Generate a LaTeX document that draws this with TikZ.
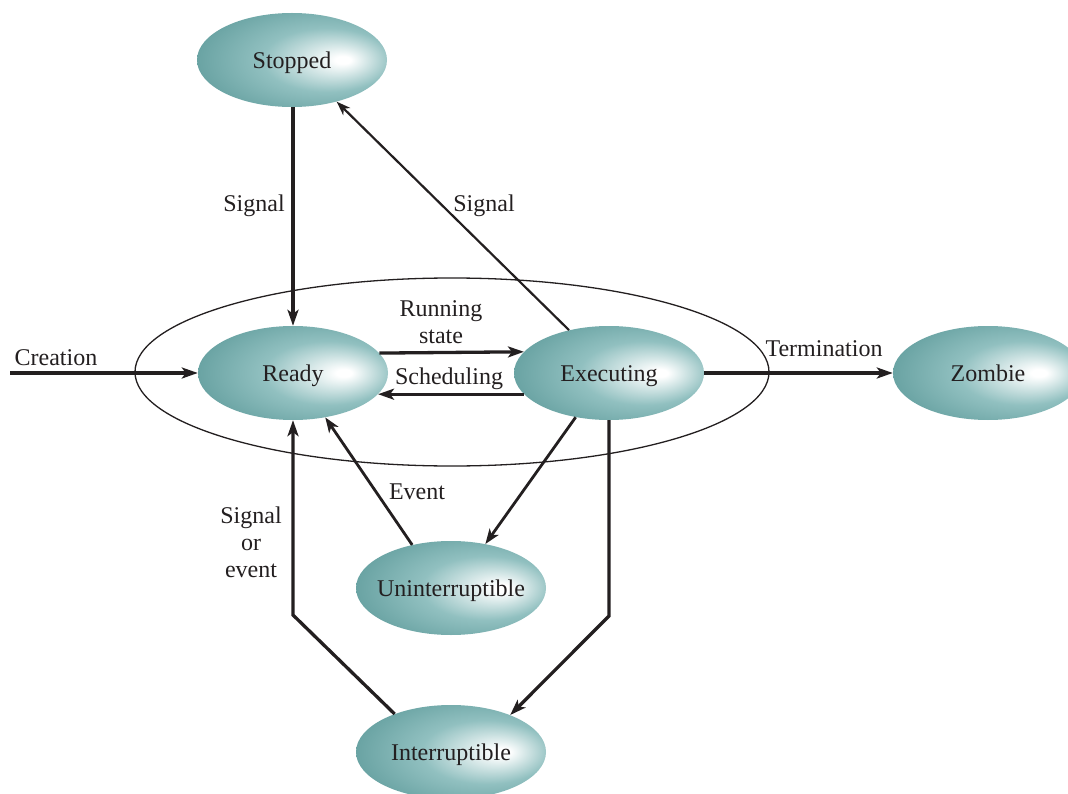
\documentclass[tikz,border=0pt]{standalone}
\usepackage{fontspec}
\setmainfont{Liberation Serif}
\usetikzlibrary{shapes.geometric,arrows.meta}
\definecolor{tealedge}{RGB}{78,143,143}
\definecolor{tealmid}{RGB}{145,192,192}
\definecolor{ink}{RGB}{35,31,32}
\newcommand\stxt[1]{\makebox[0pt]{#1}}
\pgfdeclareradialshading{tealshade}{\pgfpoint{14bp}{0bp}}{color(0bp)=(white); color(2bp)=(white); color(17bp)=(tealmid); color(40bp)=(tealedge); color(50bp)=(tealedge)}
\tikzset{
  state/.style={ellipse, shading=tealshade, draw=none, minimum width=190pt, minimum height=94pt, inner sep=0pt, text=ink, font=\fontsize{24}{27}\selectfont, text height=19pt, text depth=2pt},
  lbl/.style={text=ink, font=\fontsize{24}{27}\selectfont, align=center, inner sep=0pt},
  lbl1/.style={lbl, text height=19pt, text depth=2pt},
  thickarrow/.style={draw=ink, line width=3.3pt, -{Stealth[length=16pt,width=11pt,inset=4pt]}},
  midarrow/.style={draw=ink, line width=2.8pt, -{Stealth[length=15pt,width=11pt,inset=4pt]}},
  thinarrow/.style={draw=ink, line width=2.2pt, -{Stealth[length=14pt,width=10pt,inset=4pt]}},
  group/.style={ellipse, draw=ink, line width=1.3pt, minimum width=634pt, minimum height=188pt, inner sep=0pt}
}
\begin{document}
\begin{tikzpicture}[x=1pt,y=-1pt]
\useasboundingbox (0,0) rectangle (1068,794);
\node[group] (outer) at (452,372) {};
\node[state] (Stopped) at (292,60) {\stxt{Stopped}};
\node[state] (Ready) at (293,373) {\stxt{Ready}};
\node[state] (Executing) at (609,373) {\stxt{Executing}};
\node[state] (Zombie) at (988,373) {\stxt{Zombie}};
\node[state] (Unint) at (451,588) {\stxt{Uninterruptible}};
\node[state] (Inter) at (451,752) {\stxt{Interruptible}};

\coordinate (cstart) at (10,373);
\coordinate (bendR) at (609,616);
\coordinate (bendL) at (293,615);

\draw[thickarrow] (cstart) -- (Ready.west);
\draw[thickarrow] (Ready.north |- Stopped.south) -- (Ready.north);
\draw[thinarrow] (Executing.133.6) -- (Stopped.-43.8);
\draw[thickarrow] (Ready.13.9) -- (Executing.166.1);
\draw[thickarrow] (Executing.194.7) -- (Ready.-14.7);
\draw[thickarrow] (Executing.east) -- (Zombie.west);
\draw[midarrow] (Executing.233.7) -- (Unint.52.1);
\draw[midarrow] (Unint.132.2) -- (Ready.-54.6);
\draw[thickarrow] (Executing.south) -- (bendR) -- (Inter.32.8);
\draw[thickarrow] (Inter.146.5) -- (bendL) -- (Ready.south);

\node[lbl1] (lCreation) at (56,357) {Creation};
\node[lbl1] (lSig1) at (254,203) {Signal};
\node[lbl1] (lSig2) at (484,203) {Signal};
\node[lbl] (lRun) at (441,322) {Running\\state};
\node[lbl1] (lSched) at (449,376) {Scheduling};
\node[lbl1] (lTerm) at (824,348) {Termination};
\node[lbl1] (lEvent) at (417,491) {Event};
\node[lbl] (lSoE) at (251,542) {Signal\\or\\event};
\end{tikzpicture}
\end{document}
